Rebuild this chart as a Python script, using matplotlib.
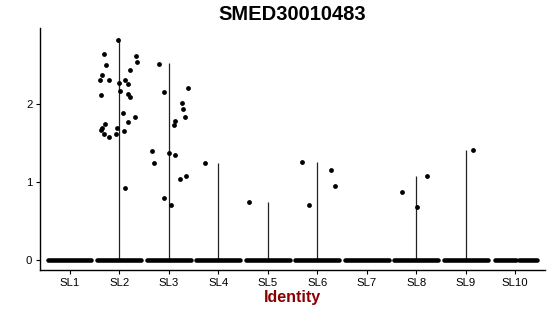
import matplotlib
matplotlib.use("Agg")
import matplotlib.pyplot as plt

plt.rcParams['font.family'] = ['Liberation Sans', 'DejaVu Sans']

categories = ["SL1", "SL2", "SL3", "SL4", "SL5", "SL6", "SL7", "SL8", "SL9", "SL10"]
# max expression per cluster (violin reaches this)
max_expr = [0, 2.85, 2.53, 1.24, 0.74, 1.26, 0, 1.08, 1.41, 0]

# non-zero expressing cells: cluster index, value, jitter offset
pt_cluster = [1]*28 + [2]*16 + [3] + [4] + [5]*4 + [7]*3 + [8]
pt_value = [2.83, 2.64, 2.62, 2.50, 2.54, 2.44, 2.37, 2.31, 2.31, 2.31, 2.27, 2.26, 2.12, 2.17,
            2.13, 2.09, 1.89, 1.83, 1.77, 1.74, 1.69, 1.67, 1.62, 1.58, 1.70, 1.62, 1.65, 0.93,
            2.52, 2.16, 2.21, 2.02, 1.94, 1.84, 1.79, 1.73, 1.40, 1.25, 1.37, 1.35, 1.08, 1.04, 0.79, 0.70,
            1.24,
            0.74,
            1.26, 0.70, 1.15, 0.95,
            0.87, 0.68, 1.08,
            1.41]
pt_jitter = [-0.03, -0.30, 0.33, -0.27, 0.36, 0.22, -0.35, -0.39, -0.21, 0.11, -0.01, 0.17, -0.36, 0.01,
             0.18, 0.22, 0.08, 0.31, 0.18, -0.29, -0.34, -0.36, -0.31, -0.21, -0.04, -0.07, 0.09, 0.11,
             -0.19, -0.09, 0.38, 0.26, 0.29, 0.32, 0.12, 0.11, -0.33, -0.29, 0.0, 0.12, 0.34, 0.22, -0.10, 0.04,
             -0.26,
             -0.37,
             -0.31, -0.16, 0.27, 0.35,
             -0.28, 0.02, 0.21,
             0.14]

# zero-expression bands (jittered zeros), in jitter offsets
zero_bands = [[(-0.44, 0.44)]] * 9 + [[(-0.42, 0.02), (0.08, 0.44)]]

fig = plt.figure(figsize=(5.5, 3.16), dpi=100)
ax = fig.add_axes([40/550, (316-270)/316, (545-40)/550, (270-28)/316])

xs = list(range(1, len(categories)+1))
for x, m in zip(xs, max_expr):
    if m > 0:
        ax.vlines(x, 0, m, color="#222222", lw=0.9, zorder=2)

for x, bands in zip(xs, zero_bands):
    for a, b in bands:
        ax.plot([x + a, x + b], [0, 0], color="black", lw=3.3, solid_capstyle="round", zorder=3)

ax.scatter([xs[c] + j for c, j in zip(pt_cluster, pt_jitter)], pt_value, s=12, color="black",
           linewidths=0, zorder=4)

ax.set_xlim(0.4, 10.6)
ax.set_ylim(-0.13, 2.98)
ax.set_xticks(xs)
ax.set_xticklabels(categories)
ax.set_yticks([0, 1, 2])
ax.set_yticklabels(["0", "1", "2"])
for s in ["top", "right"]:
    ax.spines[s].set_visible(False)
for s in ["left", "bottom"]:
    ax.spines[s].set_linewidth(1.0)
    ax.spines[s].set_color("black")
ax.tick_params(axis="both", labelsize=8.2, colors="black", length=3, width=0.8, pad=2.5)

ax.set_title("SMED30010483", fontsize=14.5, fontweight="bold", pad=6)
ax.set_xlabel("Identity", fontsize=11.5, fontweight="bold", color="#8B0000", labelpad=2)

fig.savefig("out.png", dpi=100)
